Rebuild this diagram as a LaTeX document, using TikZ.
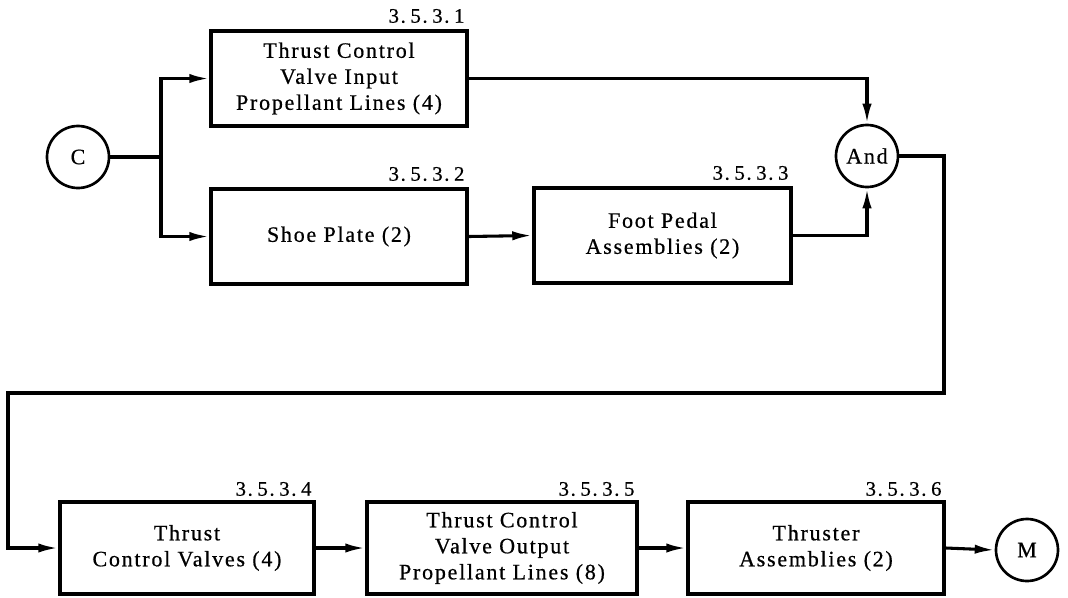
\documentclass[tikz,border=0pt]{standalone}
\usepackage{fontspec}
\setmainfont{Liberation Serif}[LetterSpace=8,FakeBold=0.6]
\usetikzlibrary{arrows.meta,positioning}
\newcommand{\sn}[4]{#1.\hspace{3.5pt}#2.\hspace{3.5pt}#3.\hspace{3.5pt}#4}
\begin{document}
\begin{tikzpicture}[x=0.75pt,y=-0.75pt,
  every node/.style={font=\fontsize{16.5}{19.5}\selectfont},
  blk/.style={draw,line width=2.6pt,align=center,inner sep=0pt},
  term/.style={draw,circle,line width=2pt,minimum size=46.5pt,inner sep=0pt},
  num/.style={anchor=south east,inner sep=0pt,font=\fontsize{15.5}{16}\selectfont},
  conn/.style={line width=2.3pt},
  flow/.style={conn,-{Latex[length=15pt,width=7pt]}}]
\useasboundingbox (0,0) rectangle (1068,597);
\node[term] (C) at (78,157) {C};
\node[term] (And) at (867,156) {And};
\node[term] (M) at (1027,550) {M};
\node[blk,minimum width=192pt,minimum height=71.25pt] (b1) at (339,78.5) {Thrust Control\\Valve Input\\Propellant Lines (4)};
\node[blk,minimum width=192pt,minimum height=71.25pt] (b2) at (339,236.5) {Shoe Plate (2)};
\node[blk,minimum width=192.75pt,minimum height=71.25pt] (b3) at (662.5,235.5) {Foot Pedal\\Assemblies (2)};
\node[blk,minimum width=190.5pt,minimum height=69pt] (b4) at (187,548) {Thrust\\Control Valves (4)};
\node[blk,minimum width=202.5pt,minimum height=69pt] (b5) at (502,548) {Thrust Control\\Valve Output\\Propellant Lines (8)};
\node[blk,minimum width=192pt,minimum height=69pt] (b6) at (816,548) {Thruster\\Assemblies (2)};
\node[num] (n1) at ([shift={(-4,-6)}]b1.north east) {\sn3531};
\node[num] (n2) at ([shift={(-4,-6)}]b2.north east) {\sn3532};
\node[num] (n3) at ([shift={(-4,-6)}]b3.north east) {\sn3533};
\node[num] (n4) at ([shift={(-4,-4)}]b4.north east) {\sn3534};
\node[num] (n5) at ([shift={(-4,-4)}]b5.north east) {\sn3535};
\node[num] (n6) at ([shift={(-4,-4)}]b6.north east) {\sn3536};
\coordinate (j) at (161,157);
\draw[conn] (C.east) -- (j);
\draw[flow] (j) |- (b1.west);
\draw[flow] (j) |- (b2.west);
\draw[flow] (b1.east) -| (And.north);
\draw[flow] (b2.east) -- (b3.west);
\draw[flow] (b3.east) -| (And.south);
\coordinate (r) at (944,393);
\coordinate (l) at (8,393);
\draw[flow] (And.east) -| (r) -- (l) |- (b4.west);
\draw[flow] (b4.east) -- (b5.west);
\draw[flow] (b5.east) -- (b6.west);
\draw[flow] (b6.east) -- (M.west);
\end{tikzpicture}
\end{document}
